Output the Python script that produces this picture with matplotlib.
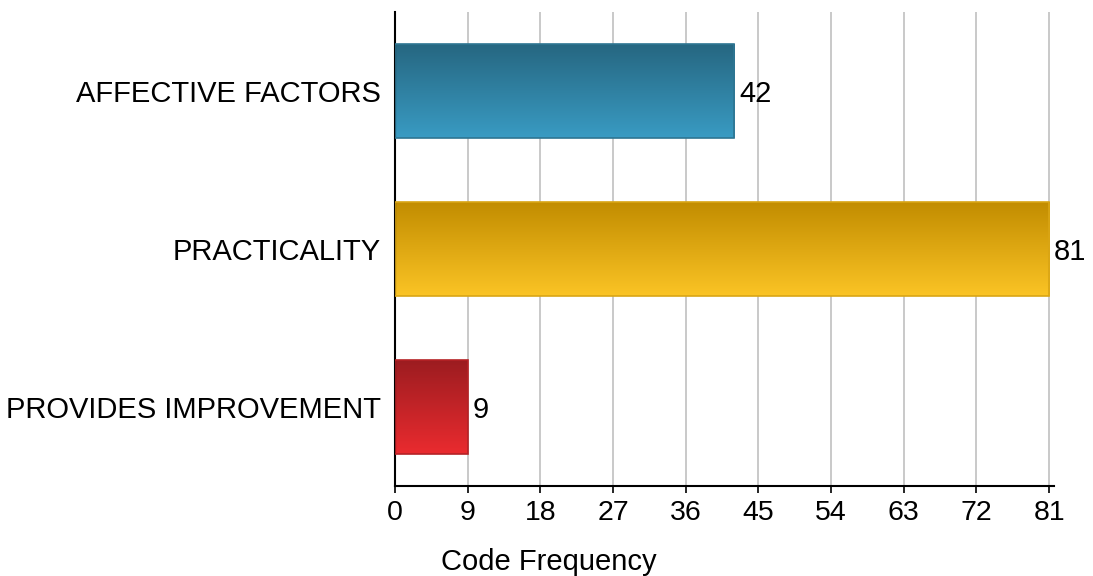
import numpy as np
import matplotlib.pyplot as plt
from matplotlib.colors import LinearSegmentedColormap

categories = ['PROVIDES IMPROVEMENT', 'PRACTICALITY', 'AFFECTIVE FACTORS']
counts = [9, 81, 42]
ticks = [0, 9, 18, 27, 36, 45, 54, 63, 72, 81]

# gradient colours per bar: (top, bottom, edge)
shades = [('#9b1c20', '#ea2b2f', '#b52226'),
          ('#c18c00', '#fbc425', '#d9a515'),
          ('#266680', '#399bc3', '#2e7592')]

plt.rcParams['font.family'] = ['Liberation Sans', 'DejaVu Sans']

fig = plt.figure(figsize=(10.93, 5.76), dpi=100)
ax = fig.add_axes([0.3614, 0.15625, 0.6029, 0.8229])

ypos = np.arange(len(categories))
bars = ax.barh(ypos, counts, height=0.6, color='none', zorder=3)

grad = np.linspace(0, 1, 256).reshape(-1, 1)
for bar, (top, bottom, edge), val in zip(bars, shades, counts):
    x0, y0 = bar.get_x(), bar.get_y()
    w, h = bar.get_width(), bar.get_height()
    cmap = LinearSegmentedColormap.from_list('g', [bottom, top])
    im = ax.imshow(grad, cmap=cmap, aspect='auto', origin='lower',
                   extent=[x0, x0 + w, y0, y0 + h], zorder=2)
    im.set_clip_path(bar)
    bar.set_edgecolor(edge)
    bar.set_linewidth(1.2)
    ax.text(val + 0.6, y0 + h / 2 - 0.02, str(val), va='center', ha='left',
            fontsize=21, zorder=4)

ax.set_xlim(0, 81.6)
ax.set_ylim(-0.5, 2.5)
ax.set_xticks(ticks)
ax.set_yticks(ypos)
ax.set_yticklabels(categories)
ax.tick_params(axis='y', length=0, pad=10, labelsize=21)
ax.tick_params(axis='x', length=5, width=1.2, pad=5, labelsize=20.5)

ax.grid(axis='x', color='#c0c0c0', linewidth=1.2, zorder=0)
ax.set_axisbelow(True)
for s in ['top', 'right']:
    ax.spines[s].set_visible(False)
for s in ['left', 'bottom']:
    ax.spines[s].set_linewidth(1.5)

ax.set_xlabel('Code Frequency', fontsize=21)
ax.xaxis.set_label_coords(0.234, -0.13)

fig.savefig('out.png', dpi=100)
